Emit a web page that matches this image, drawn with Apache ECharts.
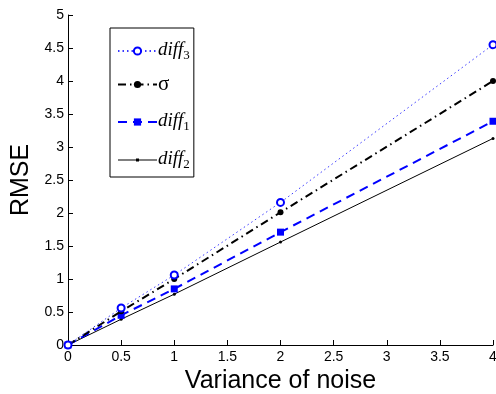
<!DOCTYPE html>
<html><head><meta charset="utf-8">
<script src="https://cdn.jsdelivr.net/npm/echarts@6/dist/echarts.min.js"></script>
<style>html,body{margin:0;padding:0;background:#fff}#c{width:496px;height:394px}</style>
</head><body><div id="c"></div>
<script>
const xValues = [0, 0.5, 1, 2, 4];
const diff3 = [0, 0.56, 1.06, 2.16, 4.55];
const sigma = [0, 0.51, 1.0, 2.01, 4.0];
const diff1 = [0, 0.45, 0.85, 1.71, 3.39];
const diff2 = [0, 0.39, 0.77, 1.56, 3.13];
const seriesNames = ['diff3', 'sigma', 'diff1', 'diff2'];
const xTitle = 'Variance of noise';
const yTitle = 'RMSE';

const pairs = a => xValues.map((x, i) => [x, a[i]]);
const chart = echarts.init(document.getElementById('c'));
const legendText = {
  diff3: '{i|diff}{s|3}', sigma: '{g|σ}', diff1: '{i|diff}{s|1}', diff2: '{i|diff}{s|2}'
};
// line with a small dot, drawn as a legend icon shape (bbox 0..39 x 0..9)
const smallDotIcon = 'path://M0,0 L0.01,0 L0.01,0.01 Z M0,4.1 L39,4.1 L39,4.9 L0,4.9 Z M18,3 L21,3 L21,6 L18,6 Z M38.99,9 L39,9 L39,8.99 Z';
chart.setOption({
  animation: false,
  backgroundColor: '#fff',
  grid: {left: 68, right: 3, top: 15, bottom: 49, outerBoundsMode: 'none', containLabel: false},
  xAxis: {
    type: 'value', min: 0, max: 4, interval: 0.5,
    name: xTitle, nameLocation: 'middle', nameGap: 23,
    nameTextStyle: {fontFamily: 'Liberation Sans', fontSize: 25, color: '#000'},
    axisLine: {lineStyle: {color: '#000', width: 1}},
    axisTick: {inside: true, length: 5, lineStyle: {color: '#000'}},
    axisLabel: {fontFamily: 'Liberation Sans', fontSize: 14, color: '#000', margin: 5,
      formatter: v => String(v)},
    splitLine: {show: false}
  },
  yAxis: {
    type: 'value', min: 0, max: 5, interval: 0.5,
    name: yTitle, nameLocation: 'middle', nameGap: 30,
    nameTextStyle: {fontFamily: 'Liberation Sans', fontSize: 25, color: '#000'},
    axisLine: {show: true, lineStyle: {color: '#000', width: 1}},
    axisTick: {show: true, inside: true, length: 5, lineStyle: {color: '#000'}},
    axisLabel: {fontFamily: 'Liberation Sans', fontSize: 14, color: '#000', margin: 4,
      formatter: v => String(v)},
    splitLine: {show: false}
  },
  legend: {
    orient: 'vertical', left: 110, top: 28,
    padding: [8, 4, 6, 7], itemGap: 12, itemWidth: 39, itemHeight: 9,
    borderColor: '#000', borderWidth: 1, backgroundColor: '#fff',
    data: [
      {name: 'diff3'}, {name: 'sigma'}, {name: 'diff1'},
      {name: 'diff2', icon: smallDotIcon, itemStyle: {color: '#000', borderWidth: 0}}
    ],
    formatter: n => legendText[n],
    textStyle: {
      color: '#000', padding: [0, 0, 0, -4],
      rich: {
        i: {fontFamily: 'Liberation Serif', fontStyle: 'italic', fontSize: 19, color: '#000', verticalAlign: 'top', lineHeight: 20},
        s: {fontFamily: 'Liberation Serif', fontSize: 13, color: '#000', verticalAlign: 'bottom', padding: [13, 0, 0, 0], lineHeight: 22},
        g: {fontFamily: 'Liberation Serif', fontSize: 21, color: '#000', lineHeight: 20}
      }
    }
  },
  series: [
    {name: 'diff2', type: 'line', data: pairs(diff2), symbol: 'circle', symbolSize: 3,
      lineStyle: {color: '#000', width: 1, type: 'solid'}, itemStyle: {color: '#000'}, z: 2},
    {name: 'diff1', type: 'line', data: pairs(diff1), symbol: 'rect', symbolSize: 7,
      lineStyle: {color: '#0000ff', width: 2, type: [9, 6]}, itemStyle: {color: '#0000ff'}, z: 3},
    {name: 'sigma', type: 'line', data: pairs(sigma), symbol: 'circle', symbolSize: 6,
      lineStyle: {color: '#000', width: 2, type: [8, 4, 1.5, 4]}, itemStyle: {color: '#000'}, z: 4},
    {name: 'diff3', type: 'line', data: pairs(diff3), symbol: 'circle', symbolSize: 7,
      lineStyle: {color: '#3a3aff', width: 1, type: [1.5, 3]},
      itemStyle: {color: '#fff', borderColor: '#0000ff', borderWidth: 2}, z: 5}
  ]
});
</script></body></html>
